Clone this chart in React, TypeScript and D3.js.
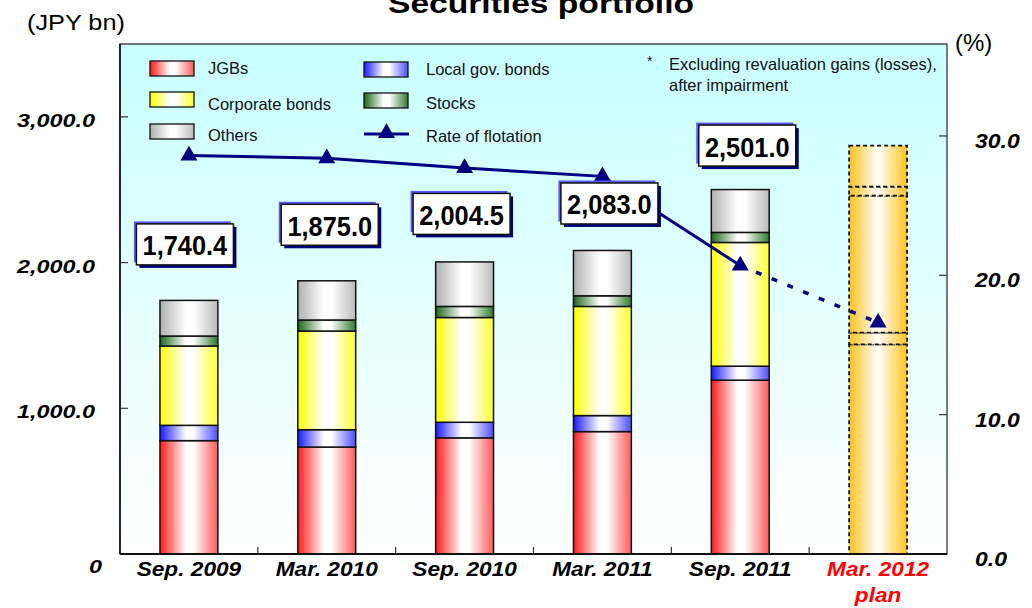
import React from 'react';
import * as d3 from 'd3';

// ---------- data ----------
const categories = ['Sep. 2009', 'Mar. 2010', 'Sep. 2010', 'Mar. 2011', 'Sep. 2011', 'Mar. 2012'];
const jgbs = [778, 734, 797, 840, 1193];
const localGov = [105, 119, 107, 110, 96];
const corporateBonds = [544, 677, 719, 749, 849];
const stocks = [69, 76, 76, 73, 69];
const others = [244.4, 269, 305.5, 311, 294];
const totals = [1740.4, 1875.0, 2004.5, 2083.0, 2501.0];
const planSegments = [1438, 81, 940, 62, 282];
const flotationRate = [28.6, 28.4, 27.7, 27.1, 20.7, 16.6];
const leftTicks = [0, 1000, 2000, 3000];
const rightTicks = [0, 10, 20, 30];

// ---------- layout / style ----------
const W = 1032;
const H = 608;
const M = { left: 120, right: 947, top: 44, bottom: 554 };
const FONT = 'Liberation Sans, Arial, Helvetica, sans-serif';
const NAVY = '#000080';
const labelNudge = [[-4, -56], [3, -56], [-3, -48], [7, -47], [7, -44]];

const seriesDefs = [
  { key: 'jgbs', name: 'JGBs', c1: '#ff1a1a', c2: '#ff5a5a', values: jgbs },
  { key: 'localGov', name: 'Local gov. bonds', c1: '#1a1aff', c2: '#4d4dff', values: localGov },
  { key: 'corporate', name: 'Corporate bonds', c1: '#ffff00', c2: '#ffff30', values: corporateBonds },
  { key: 'stocks', name: 'Stocks', c1: '#1c661c', c2: '#2e7a2e', values: stocks },
  { key: 'others', name: 'Others', c1: '#b0b0b0', c2: '#bcbcbc', values: others },
];

function SText(props: any) {
  const { x, y, sx = 1, anchor = 'start', size, weight = 'normal', italic = false, fill = '#000', children } = props;
  return (
    <text
      transform={`translate(${x},${y}) scale(${sx},1)`}
      textAnchor={anchor}
      fontFamily={FONT}
      fontSize={size}
      fontWeight={weight}
      fontStyle={italic ? 'italic' : 'normal'}
      fill={fill}
    >
      {children}
    </text>
  );
}

export default function App() {
  const x = d3
    .scaleBand<string>()
    .domain(categories)
    .range([M.left, M.right])
    .paddingInner(0.58)
    .paddingOuter(0.29);
  const yL = d3.scaleLinear().domain([0, 3500]).range([M.bottom, M.top]);
  const yR = d3.scaleLinear().domain([0, 36.6]).range([M.bottom, M.top]);
  const bw = x.bandwidth();
  const cx = (c: string) => (x(c) as number) + bw / 2;

  const rows = categories.slice(0, totals.length).map((c, i) => {
    const r: any = { cat: c };
    seriesDefs.forEach((s) => (r[s.key] = s.values[i]));
    return r;
  });
  const stacked = d3.stack<any>().keys(seriesDefs.map((s) => s.key))(rows);

  // plan bar segments
  const planCat = categories[categories.length - 1];
  let acc = 0;
  const planRects = planSegments.map((v) => {
    const r = { y0: acc, y1: acc + v };
    acc += v;
    return r;
  });

  const pts = flotationRate.map((v, i) => [cx(categories[i]), yR(v)] as [number, number]);
  const line = d3.line();
  const solidPts = pts.slice(0, 5);
  const dottedPts = pts.slice(4);
  const tri = d3.symbol().type(d3.symbolTriangle).size(125)();

  const boundaries = categories.slice(1).map((c) => (x(c) as number) - (x.step() - bw) / 2);

  const legendItems = [
    { s: seriesDefs[0], x: 150, y: 61, tx: 208, ty: 74 },
    { s: seriesDefs[2], x: 150, y: 92, tx: 208, ty: 110 },
    { s: seriesDefs[4], x: 150, y: 124, tx: 208, ty: 141 },
    { s: seriesDefs[1], x: 364, y: 62, tx: 426, ty: 75 },
    { s: seriesDefs[3], x: 364, y: 93, tx: 426, ty: 109 },
  ];

  return (
    <svg
      width={W}
      height={H}
      style={{ position: 'absolute', left: 0, top: 0, display: 'block', background: '#fff' }}
    >
      <defs>
        <linearGradient id="plotBg" x1="0" y1="0" x2="0" y2="1">
          <stop offset="0" stopColor="#c8ffff" />
          <stop offset="1" stopColor="#ffffff" />
        </linearGradient>
        {seriesDefs.map((s) => (
          <linearGradient key={s.key} id={`g-${s.key}`} x1="0" y1="0" x2="1" y2="0">
            <stop offset="0" stopColor={s.c1} />
            <stop offset="0.45" stopColor="#ffffff" />
            <stop offset="0.58" stopColor="#ffffff" />
            <stop offset="1" stopColor={s.c2} />
          </linearGradient>
        ))}
        <linearGradient id="g-plan" x1="0" y1="0" x2="1" y2="0">
          <stop offset="0" stopColor="#ffc21f" />
          <stop offset="0.5" stopColor="#ffffff" />
          <stop offset="1" stopColor="#ffc21f" />
        </linearGradient>
      </defs>

      {/* title */}
      <SText x={541} y={13} anchor="middle" size={28} weight="bold" sx={1.2}>
        Securities portfolio
      </SText>
      <SText x={27} y={30} size={22} sx={1.15}>(JPY bn)</SText>
      <SText x={955} y={51} size={24}>(%)</SText>

      {/* plot background */}
      <rect x={M.left} y={M.top} width={M.right - M.left} height={M.bottom - M.top} fill="url(#plotBg)" />

      {/* ticks */}
      {leftTicks.map((t) => (
        <line key={`lt${t}`} x1={M.left} x2={M.left + 8} y1={yL(t)} y2={yL(t)} stroke="#333" strokeWidth={1.2} />
      ))}
      {rightTicks.map((t) => (
        <line key={`rt${t}`} x1={M.right - 8} x2={M.right} y1={yR(t)} y2={yR(t)} stroke="#333" strokeWidth={1.2} />
      ))}
      {boundaries.map((b, i) => (
        <line key={`bt${i}`} x1={b} x2={b} y1={M.bottom} y2={M.bottom - 7} stroke="#333" strokeWidth={1.2} />
      ))}

      {/* stacked bars */}
      {stacked.map((layer) => (
        <g key={layer.key}>
          {layer.map((d: any, i: number) => (
            <rect
              key={i}
              x={x(d.data.cat)}
              y={yL(d[1])}
              width={bw}
              height={yL(d[0]) - yL(d[1])}
              fill={`url(#g-${layer.key})`}
              stroke="#111"
              strokeWidth={1.5}
            />
          ))}
        </g>
      ))}

      {/* plan bar */}
      {planRects.map((r, i) => (
        <rect
          key={`p${i}`}
          x={x(planCat)}
          y={yL(r.y1)}
          width={bw}
          height={yL(r.y0) - yL(r.y1)}
          fill="url(#g-plan)"
          stroke="#111"
          strokeWidth={1.8}
          strokeDasharray="4 3"
        />
      ))}

      {/* rate of flotation */}
      <path d={line(solidPts) as string} fill="none" stroke={NAVY} strokeWidth={3} />
      <path d={line(dottedPts) as string} fill="none" stroke={NAVY} strokeWidth={3.5} strokeDasharray="6 11" />
      {pts.map((p, i) => (
        <path key={`tr${i}`} d={tri as string} transform={`translate(${p[0]},${p[1]})`} fill={NAVY} />
      ))}

      {/* value labels */}
      {totals.map((t, i) => {
        const w = 97;
        const h = 41;
        const bx = cx(categories[i]) + labelNudge[i][0] - w / 2;
        const by = yL(t) + labelNudge[i][1] - h / 2;
        return (
          <g key={`lab${i}`}>
            <rect x={bx - 2.5} y={by - 2.5} width={w} height={h} fill="#5a5aff" />
            <rect x={bx + 3} y={by + 3} width={w} height={h} fill={NAVY} />
            <rect x={bx} y={by} width={w} height={h} fill="#fff" stroke="#111" strokeWidth={1.5} />
            <SText x={bx + w / 2} y={by + h / 2 + 11} anchor="middle" size={27} weight="bold" sx={0.94}>
              {d3.format(',.1f')(t)}
            </SText>
          </g>
        );
      })}

      {/* frame */}
      <rect x={M.left} y={M.top} width={M.right - M.left} height={M.bottom - M.top} fill="none" stroke="#333" strokeWidth={1.3} />
      <line x1={M.left} x2={M.right} y1={M.bottom} y2={M.bottom} stroke="#111" strokeWidth={2} />
      <line x1={M.left} x2={M.left} y1={M.top} y2={M.bottom} stroke="#111" strokeWidth={1.6} />

      {/* left axis labels */}
      {leftTicks.map((t) => (
        <SText
          key={`ll${t}`}
          x={t === 0 ? 102 : 95}
          y={yL(t) + (t === 0 ? 19 : 10)}
          anchor="end"
          size={18}
          weight="bold"
          italic
          sx={1.3}
        >
          {t === 0 ? '0' : d3.format(',.1f')(t)}
        </SText>
      ))}
      {/* right axis labels */}
      {rightTicks.map((t) => (
        <SText key={`rl${t}`} x={975} y={yR(t) + 12} size={20} weight="bold" italic sx={1.15}>
          {d3.format('.1f')(t)}
        </SText>
      ))}

      {/* category labels */}
      {categories.map((c, i) => {
        const isPlan = i === categories.length - 1;
        return (
          <g key={`xl${i}`}>
            <SText x={cx(c)} y={576} anchor="middle" size={21} weight="bold" italic sx={1.08} fill={isPlan ? '#ff0000' : '#000'}>
              {c}
            </SText>
            {isPlan && (
              <SText x={cx(c)} y={602} anchor="middle" size={21} weight="bold" italic sx={1.08} fill="#ff0000">
                plan
              </SText>
            )}
          </g>
        );
      })}

      {/* legend */}
      {legendItems.map((it) => (
        <g key={`lg${it.s.key}`}>
          <rect x={it.x} y={it.y} width={44} height={15} fill={`url(#g-${it.s.key})`} stroke="#111" strokeWidth={1.3} />
          <SText x={it.tx} y={it.ty} size={16.5} fill="#111">
            {it.s.name}
          </SText>
        </g>
      ))}
      <line x1={364} x2={409} y1={134} y2={134} stroke={NAVY} strokeWidth={3} />
      <path d={tri as string} transform="translate(386.5,133)" fill={NAVY} />
      <SText x={426} y={142} size={16.5} fill="#111">Rate of flotation</SText>

      {/* note */}
      <SText x={647} y={66} size={14} fill="#111">*</SText>
      <SText x={669} y={70} size={16.5} fill="#111">Excluding revaluation gains (losses),</SText>
      <SText x={669} y={91} size={16.5} fill="#111">after impairment</SText>
    </svg>
  );
}
